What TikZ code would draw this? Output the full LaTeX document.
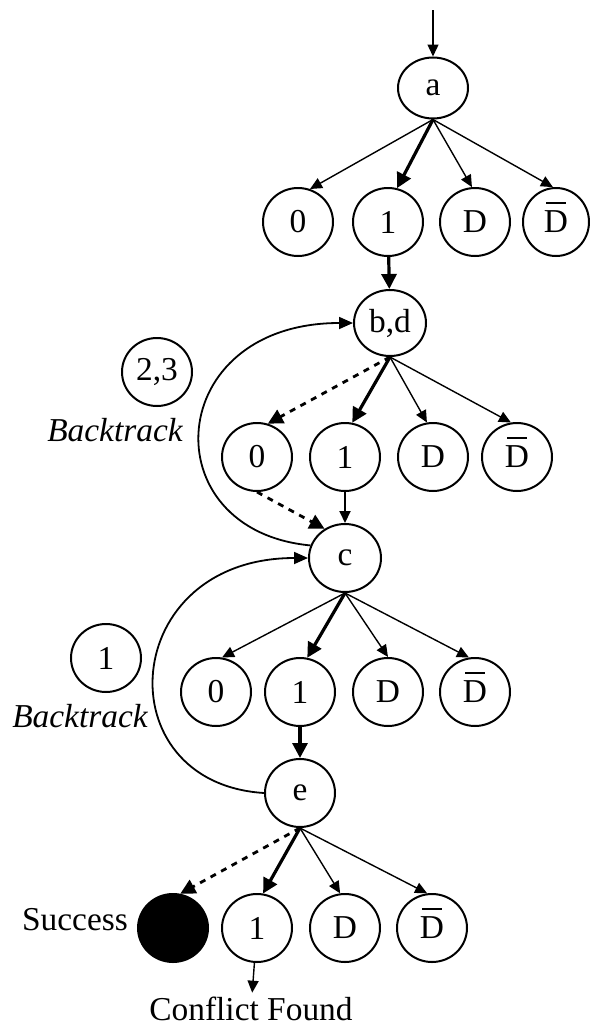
\documentclass[tikz,border=0pt]{standalone}
\usepackage{fontspec}
\setmainfont{Liberation Serif}
\usetikzlibrary{shapes.geometric,arrows.meta}

% D with a bar over it
\newcommand{\Dbar}{\ooalign{D\cr\hidewidth\raisebox{0.86em}{\rule{0.58em}{0.06em}}\hidewidth\cr}}

\begin{document}
\begin{tikzpicture}[
		x=0.5pt, y=-0.5pt,
		every node/.style = {font=\fontsize{16.7pt}{19pt}\selectfont, inner sep=2pt},
		state/.style = {
			shape=ellipse, draw, line width=1pt, inner sep=0pt,
			minimum width=35pt, minimum height=34pt},
		goal/.style = {state, fill=black},
		branch/.style = {-{Triangle[length=6pt,width=5.5pt]}, line width=0.7pt},
		chosen/.style = {-{Triangle[length=7.5pt,width=7.5pt]}, line width=1.6pt},
		tried/.style = {-{Triangle[length=7.5pt,width=7.5pt]}, line width=1.4pt,
			dash pattern=on 3pt off 3pt},
		backtrack/.style = {-{Triangle[length=7pt,width=6pt]}, line width=0.9pt}]

		\useasboundingbox (0,0) rectangle (589,1028);

		% decision levels
		\coordinate (start) at (433,10);
		\node[state, minimum height=30.5pt] (a) at (433,88) {a};
		\node[state] (a0) at (298,222) {0};
		\node[state] (a1) at (388,222) {1};
		\node[state] (aD) at (475,222) {D};
		\node[state, minimum width=33pt] (aB) at (556,222) {\Dbar};

		\node[state, minimum width=36pt, minimum height=33pt] (bd) at (390,323) {b,d};
		\node[state] (bd0) at (257,457) {0};
		\node[state] (bd1) at (345,457) {1};
		\node[state] (bdD) at (433,457) {D};
		\node[state] (bdB) at (517,457) {\Dbar};

		\node[state, minimum width=36pt] (c) at (345,558) {c};
		\node[state] (c0) at (216,692) {0};
		\node[state] (c1) at (300,692) {1};
		\node[state] (cD) at (388,692) {D};
		\node[state] (cB) at (475,692) {\Dbar};

		\node[state] (e) at (300,793) {e};
		\node[goal] (e0) at (173,928) {};
		\node[state] (e1) at (257,928) {1};
		\node[state] (eD) at (345,928) {D};
		\node[state] (eB) at (432,928) {\Dbar};

		% side notes
		\node[state] (bt23) at (157,372) {2,3};
		\node (bt23txt) at (115,430) {\itshape Backtrack};
		\node[state] (bt1) at (106,658) {1};
		\node (bt1txt) at (80,716) {\itshape Backtrack};
		\node (success) at (75,920) {Success};
		\node (conflict) at (251,1009) {Conflict Found};

		% branches
		\draw[branch] (start) -- (a);
		\draw[branch] (a.south) -- (a0.70);
		\draw[chosen] (a.south) -- (a1.75);
		\draw[branch] (a.south) -- (aD.95);
		\draw[branch] (a.south) -- (aB.95);
		\draw[chosen] (a1) -- (bd);

		\draw[tried] (bd.south) -- (bd0.72);
		\draw[chosen] (bd.south) -- (bd1.78);
		\draw[branch] (bd.south) -- (bdD.100);
		\draw[branch] (bd.south) -- (bdB.100);
		\draw[tried] (bd0.south) -- (c.125);
		\draw[branch, line width=1pt] (bd1) -- (c);

		\draw[branch] (c.south) -- (c0.80);
		\draw[chosen] (c.south) -- (c1.78);
		\draw[branch] (c.south) -- (cD.north);
		\draw[branch] (c.south) -- (cB.100);
		\draw[chosen] (c1) -- (e);

		\draw[tried] (e.south) -- (e0.78);
		\draw[chosen] (e.south) -- (e1.80);
		\draw[branch] (e.south) -- (eD.98);
		\draw[branch] (e.south) -- (eB.98);
		\draw[branch] (e1) -- (conflict);

		% backtracking
		\draw[backtrack] (c.160) .. controls +(-160,-15) and +(-190,0) .. (bd.west);
		\draw[backtrack] (e.west) .. controls +(-160,-10) and +(-190,0) .. (c.west);
\end{tikzpicture}
\end{document}
